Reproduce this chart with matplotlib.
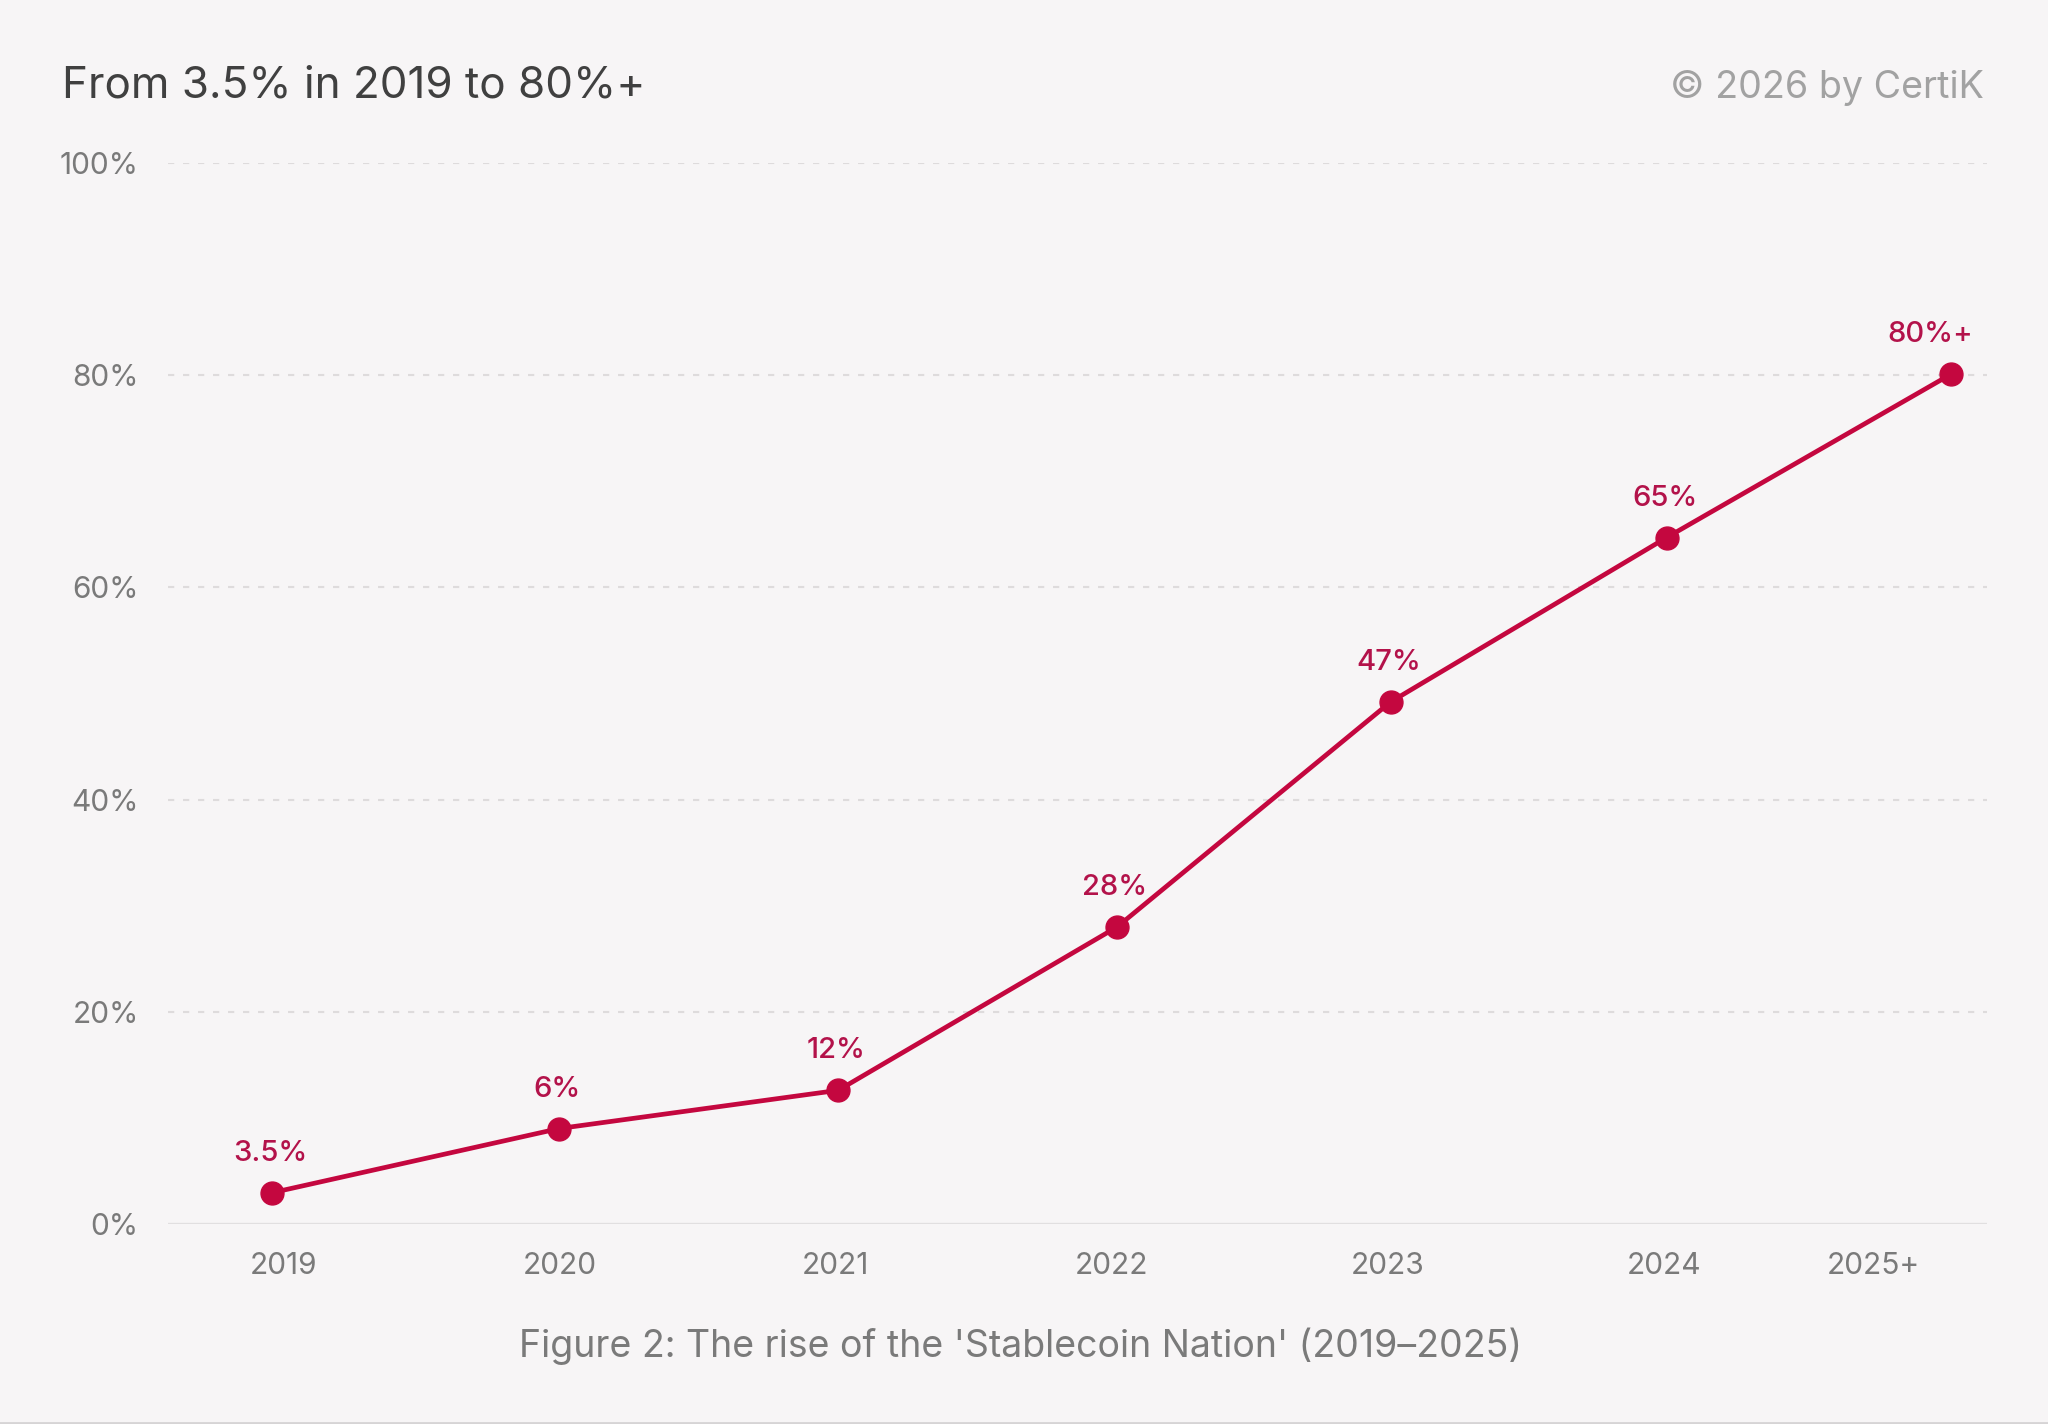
import matplotlib
matplotlib.use("Agg")
import matplotlib.pyplot as plt
from matplotlib.lines import Line2D

plt.rcParams['font.family'] = ['Inter', 'DejaVu Sans']

# ---- data ----
categories = ['2019', '2020', '2021', '2022', '2023', '2024', '2025+']
tick_positions = [0, 1, 2, 3, 4, 5, 5.76]
point_x = [-0.04, 1.00, 2.01, 3.02, 4.01, 5.01, 6.04]
point_y = [2.95, 9.0, 12.6, 28.0, 49.2, 64.7, 80.1]
point_labels = ['3.5%', '6%', '12%', '28%', '47%', '65%', '80%+']
y_ticks = [0, 20, 40, 60, 80, 100]
y_tick_labels = ['0%', '20%', '40%', '60%', '80%', '100%']

title_text = 'From 3.5% in 2019 to 80%+'
credit_text = '\u00a9 2026 by CertiK'
caption_text = "Figure 2: The rise of the 'Stablecoin Nation' (2019\u20132025)"

BG = '#F7F5F6'
LINE = '#C4073F'
LABEL = '#B3124A'
W, H = 2048, 1424

fig = plt.figure(figsize=(W / 100, H / 100), dpi=100, facecolor=BG)
ax = fig.add_axes([168 / W, 1 - 1224 / H, (1987 - 168) / W, (1224 - 163) / H])
ax.set_facecolor(BG)

ax.set_xlim(-0.417, 6.17)
ax.set_ylim(0, 100)

for s in ax.spines.values():
    s.set_visible(False)

# grid lines
for yv in y_ticks[1:]:
    ax.axhline(yv, color='#DEDBDC', lw=1.5, linestyle=(0, (3, 4.2)), zorder=1)
ax.axhline(0, color='#E1DFE0', lw=2.4, zorder=1)

ax.plot(point_x, point_y, color=LINE, lw=3.4, marker='o', markersize=16.5,
        markerfacecolor=LINE, markeredgecolor=LINE, zorder=3, clip_on=False,
        solid_capstyle='round')

for i, (xv, yv, lab) in enumerate(zip(point_x, point_y, point_labels)):
    dx = -15 if i == len(point_x) - 1 else -1.5
    ax.annotate(lab, (xv, yv), xytext=(dx, 23), textcoords='offset points',
                ha='center', va='baseline', fontsize=21, color=LABEL,
                fontweight='medium', zorder=4)

ax.set_xticks(tick_positions)
ax.set_xticklabels(categories, fontsize=21.5, color='#7A7A7A')
ax.set_yticks(y_ticks)
ax.set_yticklabels(y_tick_labels, fontsize=21.5, color='#7A7A7A')
ax.tick_params(axis='x', length=0, pad=20)
ax.tick_params(axis='y', length=0, pad=21)
for t in ax.get_yticklabels():
    t.set_y(t.get_position()[1])

fig.text(62 / W, 1 - 97 / H, title_text, fontsize=31.7, color='#404040',
         ha='left', va='baseline')
fig.text(1984 / W, 1 - 97.5 / H, credit_text, fontsize=27.1, color='#A2A2A2',
         ha='right', va='baseline')
fig.text(1021 / W, 1 - 1357 / H, caption_text, fontsize=27, color='#7A7A7A',
         ha='center', va='baseline')

# bottom border
fig.add_artist(Line2D([0, 1], [1 / H, 1 / H], transform=fig.transFigure,
                      color='#D6D4D5', lw=2))

fig.savefig('out.png', dpi=100, facecolor=BG)
